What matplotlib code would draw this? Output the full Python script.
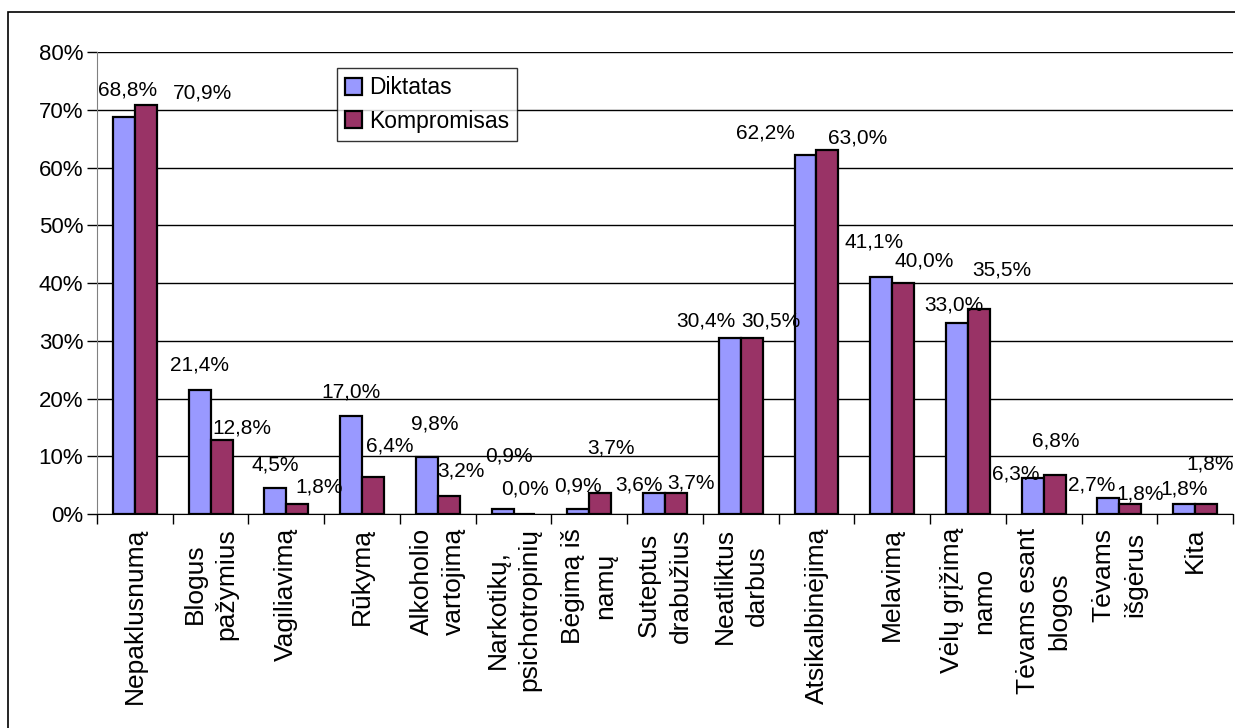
import matplotlib.pyplot as plt
from matplotlib.patches import Rectangle
from matplotlib.ticker import FuncFormatter
import numpy as np

plt.rcParams['font.family'] = ['Liberation Sans', 'DejaVu Sans']

categories = ['Nepaklusnumą', 'Blogus\npažymius', 'Vagiliavimą', 'Rūkymą',
              'Alkoholio\nvartojimą', 'Narkotikų,\npsichotropinių', 'Bėgimą iš\nnamų',
              'Suteptus\ndrabužius', 'Neatliktus\ndarbus', 'Atsikalbinėjimą',
              'Melavimą', 'Vėlų grįžimą\nnamo', 'Tėvams esant\nblogos',
              'Tėvams\nišgėrus', 'Kita']
diktatas = [68.8, 21.4, 4.5, 17.0, 9.8, 0.9, 0.9, 3.6, 30.4, 62.2, 41.1, 33.0, 6.3, 2.7, 1.8]
kompromisas = [70.9, 12.8, 1.8, 6.4, 3.2, 0.0, 3.7, 3.7, 30.5, 63.0, 40.0, 35.5, 6.8, 1.8, 1.8]

# label offsets in pixels (dx, dy) from the top centre of each bar
off_d = [(4, 27), (0, 25), (0, 23), (0, 24), (8, 33), (6, 53), (0, 23), (-15, 8),
         (-24, 17), (-40, 22), (-7, 35), (-3, 18), (-17, 4), (-17, 13), (0, 15)]
off_k = [(57, 12), (20, 12), (22, 17), (17, 31), (12, 25), (0, 25), (11, 45), (15, 10),
         (19, 17), (30, 12), (21, 22), (23, 39), (1, 34), (10, 10), (4, 40)]

c_d = '#9999FF'
c_k = '#993366'

fig = plt.figure(figsize=(12.35, 7.28), dpi=100)
ax = fig.add_axes([97 / 1235, 1 - 514 / 728, 1136 / 1235, 462 / 728])

x = np.arange(len(categories))
w = 0.29
ax.bar(x - w / 2, diktatas, w, color=c_d, edgecolor='black', linewidth=1.6,
       label='Diktatas', zorder=3)
ax.bar(x + w / 2, kompromisas, w, color=c_k, edgecolor='black', linewidth=1.6,
       label='Kompromisas', zorder=3)

def fmt(v):
    return f'{v:.1f}%'.replace('.', ',')

for i in range(len(categories)):
    ax.annotate(fmt(diktatas[i]), (x[i] - w / 2, diktatas[i]), xytext=off_d[i],
                textcoords='offset pixels', ha='center', va='center', fontsize=15,
                zorder=5)
    ax.annotate(fmt(kompromisas[i]), (x[i] + w / 2, kompromisas[i]), xytext=off_k[i],
                textcoords='offset pixels', ha='center', va='center', fontsize=15,
                zorder=5)

ax.set_xlim(-0.5, len(categories) - 0.5)
ax.set_ylim(0, 80)
ax.set_yticks(range(0, 81, 10))
ax.yaxis.set_major_formatter(FuncFormatter(lambda v, p: f'{v:.0f}%'))
ax.tick_params(axis='y', labelsize=16, length=7, width=1, pad=3)
ax.yaxis.grid(True, color='black', linewidth=1, zorder=0)
ax.set_axisbelow(True)

ax.set_xticks(x)
ax.set_xticklabels(categories, rotation=90, ha='center', va='top',
                   multialignment='center', fontsize=19, linespacing=1.4)
ax.tick_params(axis='x', which='major', length=0, pad=10)
ax.set_xticks(np.arange(-0.5, len(categories)), minor=True)
ax.tick_params(axis='x', which='minor', length=7, width=1)

for s in ['top', 'right']:
    ax.spines[s].set_visible(False)
ax.spines['left'].set_color('#808080')
ax.spines['bottom'].set_color('black')

leg = ax.legend(loc='upper left', bbox_to_anchor=(0.211, 0.965), borderaxespad=0,
                fontsize=16.5, frameon=True, fancybox=False, edgecolor='black',
                handlelength=0.75, handleheight=0.75, handletextpad=0.3,
                labelspacing=0.45, borderpad=0.35)
leg.get_frame().set_linewidth(1)
leg.set_zorder(6)

fig.patches.append(Rectangle((8 / 1235, -0.1), 1.2, 1.1 - 12 / 728, transform=fig.transFigure,
                             fill=False, edgecolor='black', linewidth=1.2))

fig.savefig('out.png', dpi=100)
